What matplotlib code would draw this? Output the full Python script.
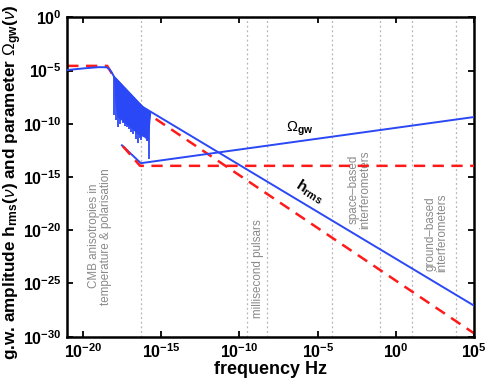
import numpy as np
import matplotlib
matplotlib.use('Agg')
import matplotlib.pyplot as plt

plt.rcParams['font.family'] = ['Liberation Sans', 'DejaVu Sans']
plt.rcParams['mathtext.fontset'] = 'custom'
plt.rcParams['mathtext.rm'] = 'Liberation Sans'
plt.rcParams['mathtext.it'] = 'Liberation Sans:italic'
plt.rcParams['mathtext.bf'] = 'Liberation Sans:bold'
plt.rcParams['mathtext.sf'] = 'Liberation Sans'

# ---- data (log10 values) ----
hrms_logf = [-21.0, -20.0, -19.0, -18.49, -18.30, -18.17, -18.0, -16.2, 5.0]
hrms_logv = [-4.95, -4.80, -4.68, -4.69, -4.88, -5.16, -5.6, -8.4, -27.1]

osc_logf = [-18.0, -17.95, -17.79, -17.36, -16.94, -16.51, -16.08, -15.87, -15.70]
osc_upper = [-5.6, -5.68, -5.93, -6.60, -7.25, -7.92, -8.51, -8.70, -8.85]
osc_lower = [-5.6, -7.5, -9.3, -9.8, -10.3, -10.9, -11.2, -11.5, -8.85]

spike_logf = [-18.04, -17.90, -17.74, -17.60, -17.47, -17.33, -17.19, -17.06, -16.94,
              -16.78, -16.62, -16.46, -16.38, -16.30, -16.18, -16.08, -15.93, -15.76]
spike_top = [-5.55, -5.76, -6.0, -6.22, -6.42, -6.64, -6.86, -7.06, -7.25,
             -7.50, -7.75, -8.0, -8.13, -8.25, -8.38, -8.51, -8.63, -8.8]
spike_bottom = [-9.2, -9.6, -10.3, -10.0, -9.95, -10.2, -10.3, -10.5, -10.77,
                -11.0, -11.39, -11.83, -11.3, -11.55, -11.0, -11.24, -11.6, -13.27]

omega_logf = [-17.51, -16.3, 5.0]
omega_logv = [-12.02, -13.7, -9.36]

hred_logf = [-21.0, -18.45, -18.0, -16.3, 5.0]
hred_logv = [-4.56, -4.56, -5.65, -8.6, -29.7]

omred_logf = [-17.45, -16.35, 5.0]
omred_logv = [-12.1, -13.95, -13.95]

band_logf = [-16.27, -9.51, -8.26, -4.08, -1.02, 1.02, 3.83]

band_labels = ['CMB anisotropies in\ntemperature & polarisation',
               'millisecond pulsars',
               'space\u2013based\ninterferometers',
               'ground\u2013based\ninterferometers']
band_label_logf = [-18.90, -8.79, -2.34, 2.57]
band_label_logv = [-20.56, -23.57, -16.15, -20.28]

xtick_exp = [-20, -15, -10, -5, 0, 5]
ytick_exp = [-30, -25, -20, -15, -10, -5, 0]

p = lambda a: 10.0 ** np.asarray(a)

BLUE = '#2a48f5'
RED = '#ff1a1a'
GRAY = '#8a8a8a'

fig = plt.figure(figsize=(4.91, 3.82), dpi=100)
ax = fig.add_axes([0.137, 0.1186, 0.829, 0.836])
ax.set_xscale('log')
ax.set_yscale('log')

for lf in band_logf:
    ax.axvline(p(lf), color='#b5b5b5', lw=0.9, ls=(0, (1.5, 2.2)), zorder=1)

# red dashed h (under blue)
ax.plot(p(hred_logf), p(hred_logv), color=RED, lw=1.8, ls=(0, (4.5, 3)), zorder=2)

# blue h_rms
ax.plot(p(hrms_logf), p(hrms_logv), color=BLUE, lw=1.4, zorder=3)
ax.fill_between(p(osc_logf), p(osc_lower), p(osc_upper), color=BLUE, lw=0.8,
                edgecolor=BLUE, zorder=3)
ax.vlines(p(spike_logf), p(spike_bottom), p(spike_top), color=BLUE, lw=1.3, zorder=3)

# blue Omega
ax.plot(p(omega_logf), p(omega_logv), color=BLUE, lw=1.4, zorder=3)
# red dashed Omega
ax.plot(p(omred_logf), p(omred_logv), color=RED, lw=1.8, ls=(0, (4.5, 3)), zorder=4)

for t, lf, lv in zip(band_labels, band_label_logf, band_label_logv):
    ax.text(p(lf), p(lv), t, rotation=90, ha='center', va='center',
            multialignment='center', color=GRAY, fontsize=8.4, linespacing=1.05)

ax.text(p(-7.0), p(-10.75), r'$\Omega_{\mathbf{gw}}$', fontsize=10.5, ha='left',
        va='baseline', color='black')
ax.text(p(-5.55), p(-16.35), r'$\mathbf{h}_{\mathbf{rms}}$', fontsize=11, ha='center',
        va='center', rotation=-32, rotation_mode='anchor', color='black')

ax.set_xlim(1e-21, 1e5)
ax.set_ylim(1e-30, 1e0)
ax.set_xticks(p(xtick_exp))
ax.set_xticklabels([r'$\mathbf{10^{%d}}$' % e for e in xtick_exp])
ax.set_yticks(p(ytick_exp))
ax.set_yticklabels([r'$\mathbf{10^{%d}}$' % e for e in ytick_exp])
ax.minorticks_off()
ax.tick_params(direction='in', length=4.5, width=1.3, labelsize=11.5,
               top=True, right=True, pad=4)
for s in ax.spines.values():
    s.set_linewidth(1.8)

ax.set_xlabel('frequency Hz', fontsize=13, fontweight='bold', labelpad=0)
ax.set_ylabel(r'g.w. amplitude h$_{\mathbf{rms}}$($\nu$) and parameter $\Omega_{\mathbf{gw}}$($\nu$)',
              fontsize=12.3, fontweight='bold', va='center', ha='center')
ax.yaxis.set_label_coords(-0.133, 0.484)

fig.savefig('out.png', dpi=100)
